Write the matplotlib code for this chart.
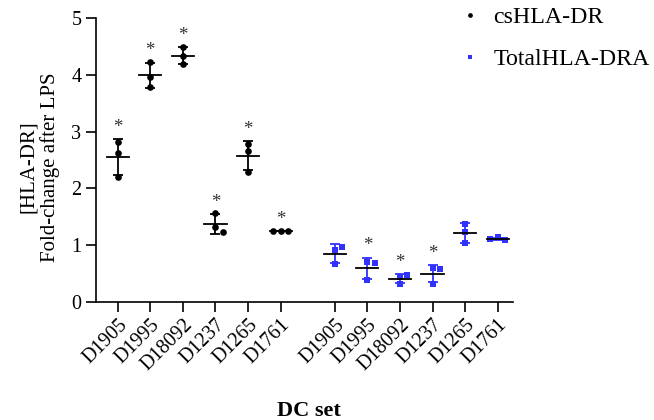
import numpy as np
import matplotlib
matplotlib.use("Agg")
import matplotlib.pyplot as plt
from matplotlib.lines import Line2D

plt.rcParams['font.family'] = ['Liberation Serif', 'DejaVu Serif']

donors = ["D1905", "D1995", "D18092", "D1237", "D1265", "D1761"]

cs_vals = [
    [2.82, 2.63, 2.20],
    [4.23, 3.96, 3.79],
    [4.50, 4.33, 4.20],
    [1.56, 1.31, 1.23],
    [2.79, 2.65, 2.29],
    [1.25, 1.25, 1.25],
]
total_vals = [
    [0.91, 0.665, 0.97],
    [0.705, 0.38, 0.69],
    [0.43, 0.32, 0.47],
    [0.32, 0.59, 0.57],
    [1.37, 1.235, 1.03],
    [1.135, 1.09, 1.10],
]
cs_sig = [True, True, True, True, True, True]
total_sig = [False, True, True, True, False, False]

series_names = ["csHLA-DR", "TotalHLA-DRA"]
BLUE = "#3232FF"

fig = plt.figure(figsize=(6.54, 4.2), dpi=100)
ax = fig.add_axes([96/654, 118.3/420, (512.7-96)/654, 283.4/420])

gap = 1.66
pos1 = np.arange(len(donors), dtype=float)
pos2 = pos1 + len(donors) + gap - 1

ax.set_xlim(-0.664, pos2[-1] + 0.46)
ax.set_ylim(0, 5)

# pixel scale helpers for swarm spacing
ax_w_px = (512.7 - 96)
x_units_per_px = (ax.get_xlim()[1] - ax.get_xlim()[0]) / ax_w_px
y_units_per_px = 5 / 283.4
d_px = 7.5


def swarm(x0, vals):
    placed = []
    xs = []
    for v in vals:
        for k in [0, 1, -1, 2, -2]:
            xo = k * d_px
            ok = True
            for (px, py) in placed:
                dy = (v - py) / y_units_per_px
                if (xo - px) ** 2 + dy ** 2 < (d_px - 1.5) ** 2:
                    ok = False
                    break
            if ok:
                break
        placed.append((xo, v))
        xs.append(x0 + xo * x_units_per_px)
    return xs


def draw_group(positions, data, sig, color, marker):
    for x0, vals, s in zip(positions, data, sig):
        vals = np.array(vals)
        m = vals.mean()
        sd = vals.std(ddof=1)
        xs = swarm(x0, vals)
        ax.plot(xs, vals, linestyle='none', marker=marker, color=color,
                markersize=4.8 if marker == 'o' else 4.6, zorder=3,
                markeredgewidth=0)
        ax.errorbar([x0], [m], yerr=[sd], fmt='none', ecolor=color,
                    elinewidth=1.3, capsize=3.6, capthick=1.3, zorder=4)
        ax.plot([x0 - 0.34, x0 + 0.34], [m, m], color='black', lw=1.3, zorder=4)
        if s:
            ax.annotate('*', xy=(x0, m + sd), xytext=(0, 8.5), textcoords='offset points',
                        ha='center', va='center', fontsize=13.5, color='#333333')


draw_group(pos1, cs_vals, cs_sig, 'black', 'o')
draw_group(pos2, total_vals, total_sig, BLUE, 's')

ax.spines['top'].set_visible(False)
ax.spines['right'].set_visible(False)
for sp in ['left', 'bottom']:
    ax.spines[sp].set_linewidth(1.2)

ax.set_yticks([0, 1, 2, 3, 4, 5])
ax.set_xticks(np.concatenate([pos1, pos2]))
ax.set_xticklabels(donors + donors, rotation=45, ha='right', rotation_mode='anchor')
ax.tick_params(axis='both', direction='out', length=7, width=1.2, labelsize=14.5)
ax.tick_params(axis='x', pad=3)

ax.set_ylabel("[HLA-DR]\nFold-change after LPS", fontsize=15, linespacing=1.1)
ax.yaxis.set_label_coords(-0.087, 0.475)
ax.set_xlabel("DC set", fontsize=16, fontweight='bold')
ax.xaxis.set_label_coords(0.51, -0.35)

handles = [
    Line2D([], [], linestyle='none', marker='o', color='black', markersize=3.4, markeredgewidth=0),
    Line2D([], [], linestyle='none', marker='s', color=BLUE, markersize=3.4, markeredgewidth=0),
]
fig.legend(handles, series_names, loc='upper left', bbox_to_anchor=(448/654, 1 + 3/420),
           frameon=False, fontsize=17.2, handlelength=1.0, handletextpad=0.49,
           labelspacing=0.85, borderaxespad=0)

fig.savefig("out.png", dpi=100)
